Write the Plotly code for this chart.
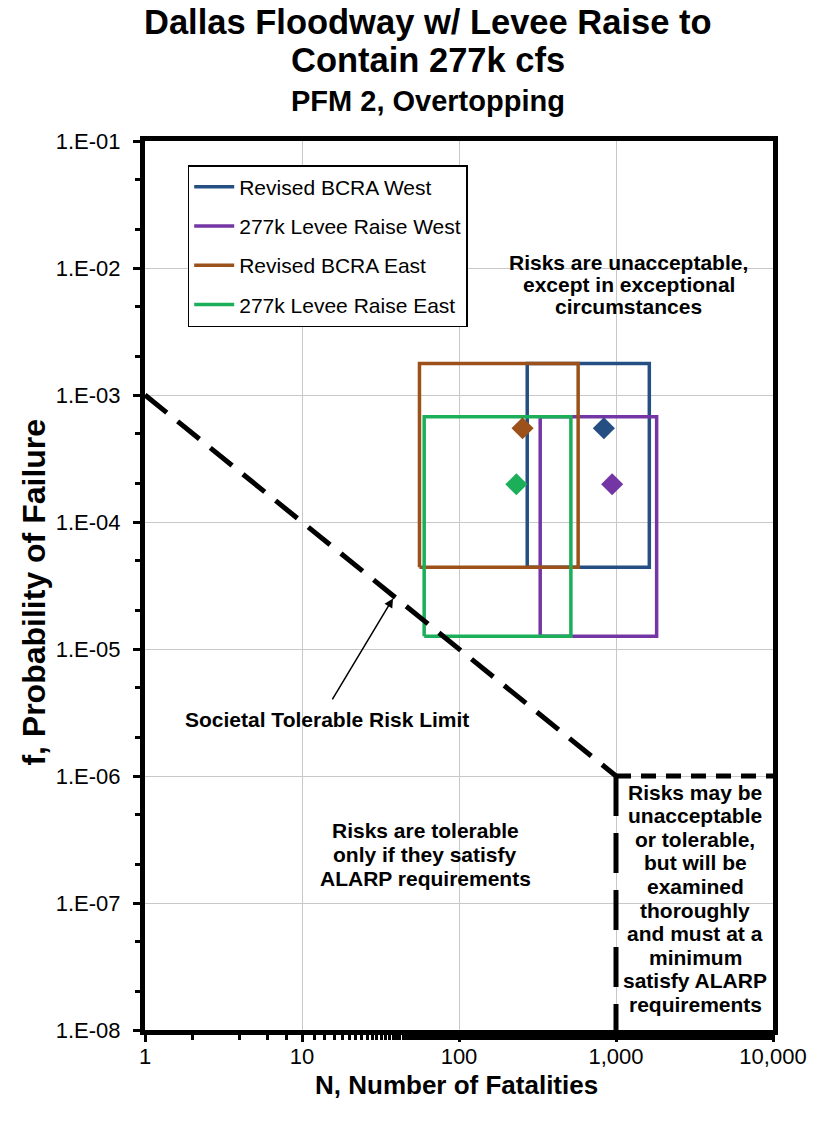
import numpy as np
import plotly.graph_objects as go

# Scenario ranges (fatalities N and annual probability f)
names = ["Revised BCRA West", "277k Levee Raise West", "Revised BCRA East", "277k Levee Raise East"]
colors = ["#254F83", "#7436A4", "#9B5119", "#1BAF5A"]
n_low = [272, 329, 56, 60]
n_high = [1630, 1815, 574, 516]
f_low = [4.4e-5, 1.26e-5, 4.4e-5, 1.26e-5]
f_high = [1.77e-3, 6.75e-4, 1.77e-3, 6.75e-4]
n_best = [837, 945, 254, 232]
f_best = [5.47e-4, 1.98e-4, 5.47e-4, 1.98e-4]

# Tolerable risk guideline
limit_n = [1, 1000]
limit_f = [1e-3, 1e-6]
horiz_n = [1000, 10000]
horiz_f = [1e-6, 1e-6]
vert_n = [1000, 1000]
vert_f = [1e-6, 1e-8]

x_ticks = [1, 10, 100, 1000, 10000]
x_labels = ["1", "10", "100", "1,000", "10,000"]
y_ticks = [1e-8, 1e-7, 1e-6, 1e-5, 1e-4, 1e-3, 1e-2, 1e-1]
y_labels = ["1.E-08", "1.E-07", "1.E-06", "1.E-05", "1.E-04", "1.E-03", "1.E-02", "1.E-01"]

FONT = "Liberation Sans, Arial, sans-serif"

fig = go.Figure()

for i in range(4):
    fig.add_trace(go.Scatter(
        x=[n_low[i], n_high[i], n_high[i], n_low[i], n_low[i]],
        y=[f_low[i], f_low[i], f_high[i], f_high[i], f_low[i]],
        mode="lines", name=names[i], legendgroup=names[i],
        line=dict(color=colors[i], width=3.5), hoverinfo="skip"))

for i in range(4):
    fig.add_trace(go.Scatter(
        x=[n_best[i]], y=[f_best[i]], mode="markers", showlegend=False,
        marker=dict(symbol="diamond", size=17, color=colors[i])))

fig.add_trace(go.Scatter(x=limit_n, y=limit_f, mode="lines", showlegend=False,
                         line=dict(color="black", width=5, dash="28px,14px")))
fig.add_trace(go.Scatter(x=horiz_n, y=horiz_f, mode="lines", showlegend=False,
                         line=dict(color="black", width=5, dash="15px,10px")))
fig.add_trace(go.Scatter(x=vert_n, y=vert_f, mode="lines", showlegend=False,
                         line=dict(color="black", width=5, dash="40px,17px")))


def lx(v):
    return float(np.log10(v))


def add_block(lines, n, f, spacing, size=21):
    """Centred multi-line bold label with a fixed line pitch."""
    mid = (len(lines) - 1) / 2
    for k, line in enumerate(lines):
        fig.add_annotation(xref="x", yref="y", x=lx(n), y=lx(f),
                           yshift=-(k - mid) * spacing, showarrow=False,
                           text="<b>" + line + "</b>",
                           font=dict(family=FONT, size=size, color="black"))


add_block(["Risks are unacceptable,", "except in exceptional", "circumstances"], 1206, 7.35e-3, 22)
add_block(["Risks are tolerable", "only if they satisfy", "ALARP requirements"], 61, 2.4e-7, 24)
add_block(["Risks may be", "unacceptable", "or tolerable,", "but will be", "examined",
           "thoroughly", "and must at a", "minimum", "satisfy ALARP", "requirements"],
          3186, 1.09e-7, 23.6)
add_block(["Societal Tolerable Risk Limit"], 14.5, 2.81e-6, 0)

fig.add_annotation(xref="x", yref="y", axref="x", ayref="y",
                   x=lx(38), y=lx(2.5e-5), ax=lx(15.4), ay=lx(3.9e-6),
                   text="", showarrow=True, arrowhead=2, arrowsize=1.2,
                   arrowwidth=1.5, arrowcolor="black")

# Titles
title_x = 0.45
for txt, size, shift in [("Dallas Floodway w/ Levee Raise to", 34.5, 119),
                         ("Contain 277k cfs", 34.5, 81),
                         ("PFM 2, Overtopping", 29, 40)]:
    fig.add_annotation(xref="paper", yref="paper", x=title_x, y=1.0, yanchor="middle",
                       yshift=shift, text="<b>" + txt + "</b>", showarrow=False,
                       font=dict(family=FONT, size=size, color="black"))

fig.add_annotation(xref="paper", yref="paper", x=0.496, y=0, yanchor="middle", yshift=-55,
                   text="<b>N, Number of Fatalities</b>", showarrow=False,
                   font=dict(family=FONT, size=26, color="black"))
fig.add_annotation(xref="paper", yref="paper", x=0, y=0.492, xanchor="center", xshift=-111,
                   text="<b>f, Probability of Failure</b>", showarrow=False, textangle=-90,
                   font=dict(family=FONT, size=32, color="black"))

axis_common = dict(
    showline=True, linecolor="black", linewidth=5, mirror=True,
    ticks="outside", ticklen=7, tickwidth=2.5, tickcolor="black",
    showgrid=True, gridcolor="#c8c8c8", gridwidth=1, zeroline=False,
    tickfont=dict(family=FONT, size=22, color="black"),
    minor=dict(ticks="outside", ticklen=5, tickwidth=2.5, tickcolor="black", showgrid=False),
)

fig.update_xaxes(type="log", range=[0, 4], tickvals=x_ticks, ticktext=x_labels,
                 ticklabelstandoff=-4, **axis_common)
fig.update_yaxes(type="log", range=[-8, -1], tickvals=y_ticks, ticktext=y_labels,
                 ticklabelstandoff=8, **axis_common)

fig.update_layout(
    width=819, height=1133,
    margin=dict(l=145, r=40, t=141, b=103),
    plot_bgcolor="white", paper_bgcolor="white",
    showlegend=True,
    legend=dict(x=0.068, y=0.973, xanchor="left", yanchor="top",
                bgcolor="white", bordercolor="black", borderwidth=1.5,
                font=dict(family=FONT, size=21, color="black"),
                tracegroupgap=9, itemwidth=40),
)

fig.write_html("out.html")
